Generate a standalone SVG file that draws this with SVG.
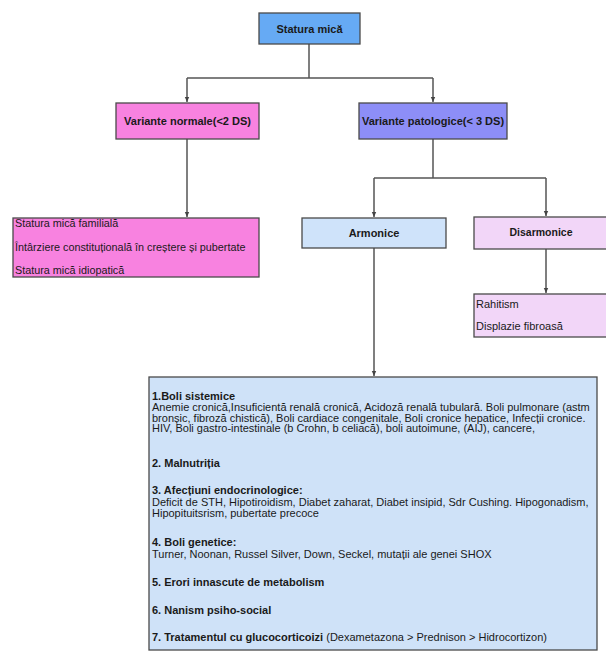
<svg xmlns="http://www.w3.org/2000/svg" width="606" height="651" viewBox="0 0 606 651">
<defs>
<marker id="arr" markerWidth="6" markerHeight="6" refX="5" refY="3" orient="auto" markerUnits="userSpaceOnUse">
<path d="M0,0.8 L5,3 L0,5.2 Z" fill="#444"/>
</marker>
<style>
.box{stroke:#4a4a4a;stroke-width:1.3}
.t{font-family:"Liberation Sans",Arial,sans-serif;fill:#1a1a1a}
.b{font-weight:bold}
.c{text-anchor:middle}
.conn{fill:none;stroke:#555;stroke-width:1.5}
</style>
</defs>
<rect width="606" height="651" fill="#ffffff"/>
<g id="connectors">
<path class="conn" d="M309,44 V78 M187,78 H433"/>
<path class="conn" d="M187,78 V102" marker-end="url(#arr)"/>
<path class="conn" d="M433,78 V102" marker-end="url(#arr)"/>
<path class="conn" d="M187,139 V217" marker-end="url(#arr)"/>
<path class="conn" d="M433,139 V178 M374,178 H546"/>
<path class="conn" d="M374,178 V217" marker-end="url(#arr)"/>
<path class="conn" d="M546,178 V216" marker-end="url(#arr)"/>
<path class="conn" d="M374,248 V376" marker-end="url(#arr)"/>
<path class="conn" d="M546,249 V293" marker-end="url(#arr)"/>
</g>
<g id="n-statura">
<rect class="box" x="259" y="13" width="101" height="31" fill="#66aaf4"/>
<text class="t b c" x="309.5" y="32.5" font-size="11">Statura mică</text>
</g>
<g id="n-normale">
<rect class="box" x="116" y="103" width="143" height="36" fill="#f882e0"/>
<text class="t b c" x="187.5" y="125" font-size="11">Variante normale(&lt;2 DS)</text>
</g>
<g id="n-patologice">
<rect class="box" x="359" y="103" width="148" height="36" fill="#8d8ef7"/>
<text class="t b c" x="433" y="125" font-size="11">Variante patologice(&lt; 3 DS)</text>
</g>
<g id="n-normale-list">
<rect class="box" x="13" y="218" width="246" height="59" fill="#f882e0"/>
<text class="t" x="15" y="226.5" font-size="10.8">Statura mică familială</text>
<text class="t" x="15" y="250.5" font-size="10.8">Întârziere constituțională în creștere și pubertate</text>
<text class="t" x="15" y="273.5" font-size="10.8">Statura mică idiopatică</text>
</g>
<g id="n-armonice">
<rect class="box" x="302" y="218" width="144" height="30" fill="#cfe3fa"/>
<text class="t b c" x="374" y="236.5" font-size="11">Armonice</text>
</g>
<g id="n-disarmonice">
<rect class="box" x="474" y="217" width="140" height="32" fill="#f2d6f8"/>
<text class="t b c" x="541" y="236" font-size="10.5">Disarmonice</text>
</g>
<g id="n-disarmonice-list">
<rect class="box" x="474" y="294" width="140" height="43" fill="#f2d6f8"/>
<text class="t" x="476" y="308" font-size="11">Rahitism</text>
<text class="t" x="476" y="330" font-size="11">Displazie fibroasă</text>
</g>
<g id="n-armonice-list">
<rect class="box" x="149" y="377" width="448" height="273" fill="#cfe2f8"/>
<text class="t b" x="152" y="399.5" font-size="11">1.Boli sistemice</text>
<text class="t" x="152" y="411" font-size="11">Anemie cronică,Insuficientă renală cronică, Acidoză renală tubulară. Boli pulmonare (astm</text>
<text class="t" x="152" y="421.5" font-size="11">bronșic, fibroză chistică), Boli cardiace congenitale, Boli cronice hepatice, Infecții cronice.</text>
<text class="t" x="152" y="432" font-size="11">HIV, Boli gastro-intestinale (b Crohn, b celiacă), boli autoimune, (AIJ), cancere,</text>
<text class="t b" x="152" y="467" font-size="11">2. Malnutriția</text>
<text class="t b" x="152" y="494" font-size="11">3. Afecțiuni endocrinologice:</text>
<text class="t" x="152" y="505.5" font-size="11">Deficit de STH, Hipotiroidism, Diabet zaharat, Diabet insipid, Sdr Cushing. Hipogonadism,</text>
<text class="t" x="152" y="517" font-size="11">Hipopituitsrism, pubertate precoce</text>
<text class="t b" x="152" y="546" font-size="11">4. Boli genetice:</text>
<text class="t" x="152" y="558" font-size="11">Turner, Noonan, Russel Silver, Down, Seckel, mutații ale genei SHOX</text>
<text class="t b" x="152" y="586" font-size="11">5. Erori innascute de metabolism</text>
<text class="t b" x="152" y="614" font-size="11">6. Nanism psiho-social</text>
<text class="t" x="152" y="641" font-size="11"><tspan class="b">7. Tratamentul cu glucocorticoizi</tspan> (Dexametazona &gt; Prednison &gt; Hidrocortizon)</text>
</g>
</svg>
